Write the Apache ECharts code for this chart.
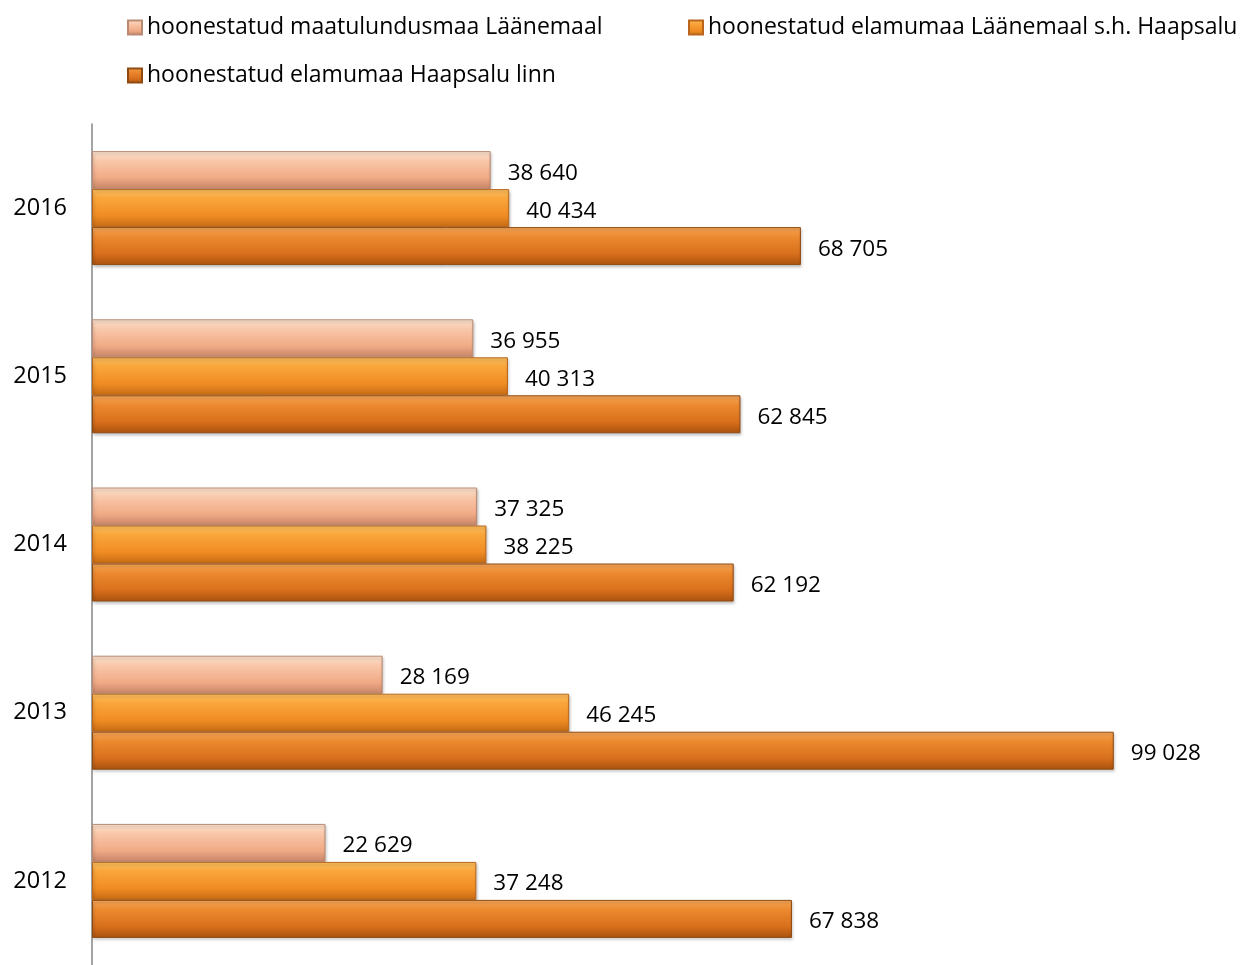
<!DOCTYPE html>
<html>
<head>
<meta charset="utf-8">
<script src="https://cdn.jsdelivr.net/npm/echarts@6/dist/echarts.min.js"></script>
<style>
  html, body { margin: 0; padding: 0; background: #fff; }
  #chart { width: 1243px; height: 965px; }
</style>
</head>
<body>
<div id="chart"></div>
<script>
// aastad (alt üles)
var years = ['2012', '2013', '2014', '2015', '2016'];
var seriesNames = [
  'hoonestatud maatulundusmaa Läänemaal',
  'hoonestatud elamumaa Läänemaal s.h. Haapsalu',
  'hoonestatud elamumaa Haapsalu linn'
];
var maatulundus = [22629, 28169, 37325, 36955, 38640];
var elamuLaanemaa = [37248, 46245, 38225, 40313, 40434];
var elamuHaapsalu = [67838, 99028, 62192, 62845, 68705];

var FONT = 'Open Sans';

function grad(c1, c2, c3, c4) {
  return new echarts.graphic.LinearGradient(0, 0, 0, 1, [
    { offset: 0, color: c1 },
    { offset: 0.25, color: c2 },
    { offset: 0.7, color: c3 },
    { offset: 1, color: c4 }
  ]);
}
var colors = [
  grad('#fde4d2', '#f9c8aa', '#f1aa86', '#c58468'),
  grad('#fcc060', '#f9a53a', '#f08c24', '#c56a12'),
  grad('#f8a85a', '#ec8a30', '#d86f1c', '#a9520e')
];
var borders = ['#b98a73', '#b9661c', '#8f4a12'];

function fmt(p) {
  return String(p.value).replace(/\B(?=(\d{3})+(?!\d))/g, ' ');
}

function makeSeries(i, data) {
  return {
    name: seriesNames[i],
    type: 'bar',
    data: data,
    barWidth: 38,
    barGap: '0%',
    itemStyle: {
      color: colors[i],
      borderColor: borders[i],
      borderWidth: 1,
      shadowColor: 'rgba(0,0,0,0.25)',
      shadowBlur: 3,
      shadowOffsetX: 1,
      shadowOffsetY: 2
    },
    label: {
      show: true,
      position: 'right',
      distance: 17,
      offset: [0, 3],
      color: '#000',
      fontFamily: FONT,
      fontSize: 22.5,
      formatter: fmt
    }
  };
}

function legendItem(name, left, top) {
  return {
    data: [name],
    left: left,
    top: top,
    icon: 'rect',
    itemWidth: 14,
    itemHeight: 14,
    itemGap: 0,
    padding: 0,
    textStyle: { fontFamily: FONT, fontSize: 23, color: '#000' }
  };
}

var chart = echarts.init(document.getElementById('chart'));
chart.setOption({
  animation: false,
  legend: [
    legendItem(seriesNames[0], 127, 16),
    legendItem(seriesNames[1], 688, 16),
    legendItem(seriesNames[2], 127, 64)
  ],
  grid: { left: 92, top: 124, width: 1135, height: 850, containLabel: false },
  xAxis: {
    type: 'value',
    min: 0,
    max: 110000,
    show: false
  },
  yAxis: {
    type: 'category',
    data: years,
    axisLine: { show: true, lineStyle: { color: '#868686', width: 1.5 } },
    axisTick: { show: false },
    axisLabel: { fontFamily: FONT, fontSize: 23.5, color: '#000', margin: 25, padding: [10, 0, 0, 0] }
  },
  series: [
    makeSeries(0, maatulundus),
    makeSeries(1, elamuLaanemaa),
    makeSeries(2, elamuHaapsalu)
  ]
});
</script>
</body>
</html>
